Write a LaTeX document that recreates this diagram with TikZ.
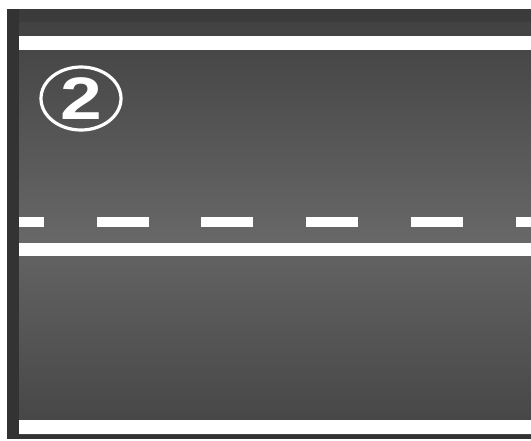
\documentclass[tikz,border=0pt]{standalone}
\usepackage{fontspec}
\setsansfont{Liberation Sans}
\usetikzlibrary{shapes.geometric}

\definecolor{curbdark}{HTML}{333333}
\definecolor{lanetop}{HTML}{424242}
\definecolor{lanemid}{HTML}{686868}
\definecolor{lanelow}{HTML}{454545}

\begin{document}
\begin{tikzpicture}[x=0.5pt, y=-0.5pt,
  marking/.style={fill=white},
  lanenum/.style={ellipse, draw=white, line width=1.6pt, text=white,
    minimum width=40pt, minimum height=31.5pt, inner sep=0pt,
    font=\sffamily\bfseries\fontsize{30}{30}\selectfont},
]
\useasboundingbox (0,0) rectangle (531,440);

% === Road surface ===
\fill[curbdark] (7,9) rectangle (531,439);
\fill[lanetop!90!black] (19,9) rectangle (531,22);
\shade[top color=lanetop, bottom color=lanemid] (19,22) rectangle (531,243);
\shade[top color=lanemid!96!black, bottom color=lanelow] (19,243) rectangle (531,434);

% === Markings ===
\fill[marking] (19,36) rectangle (531,50);
\fill[marking] (19,243) rectangle (531,256);
\fill[marking] (19,420) rectangle (531,434);
\begin{scope}
  \clip (19,200) rectangle (531,240);
  \foreach \i in {0,...,5}
    \fill[marking] ({-8+104.7*\i},217) rectangle ({44+104.7*\i},227);
\end{scope}

% === Lane number ===
\node[lanenum] (lane2) at (81,98.5) {\scalebox{1.25}[1]{2}};

\end{tikzpicture}
\end{document}
